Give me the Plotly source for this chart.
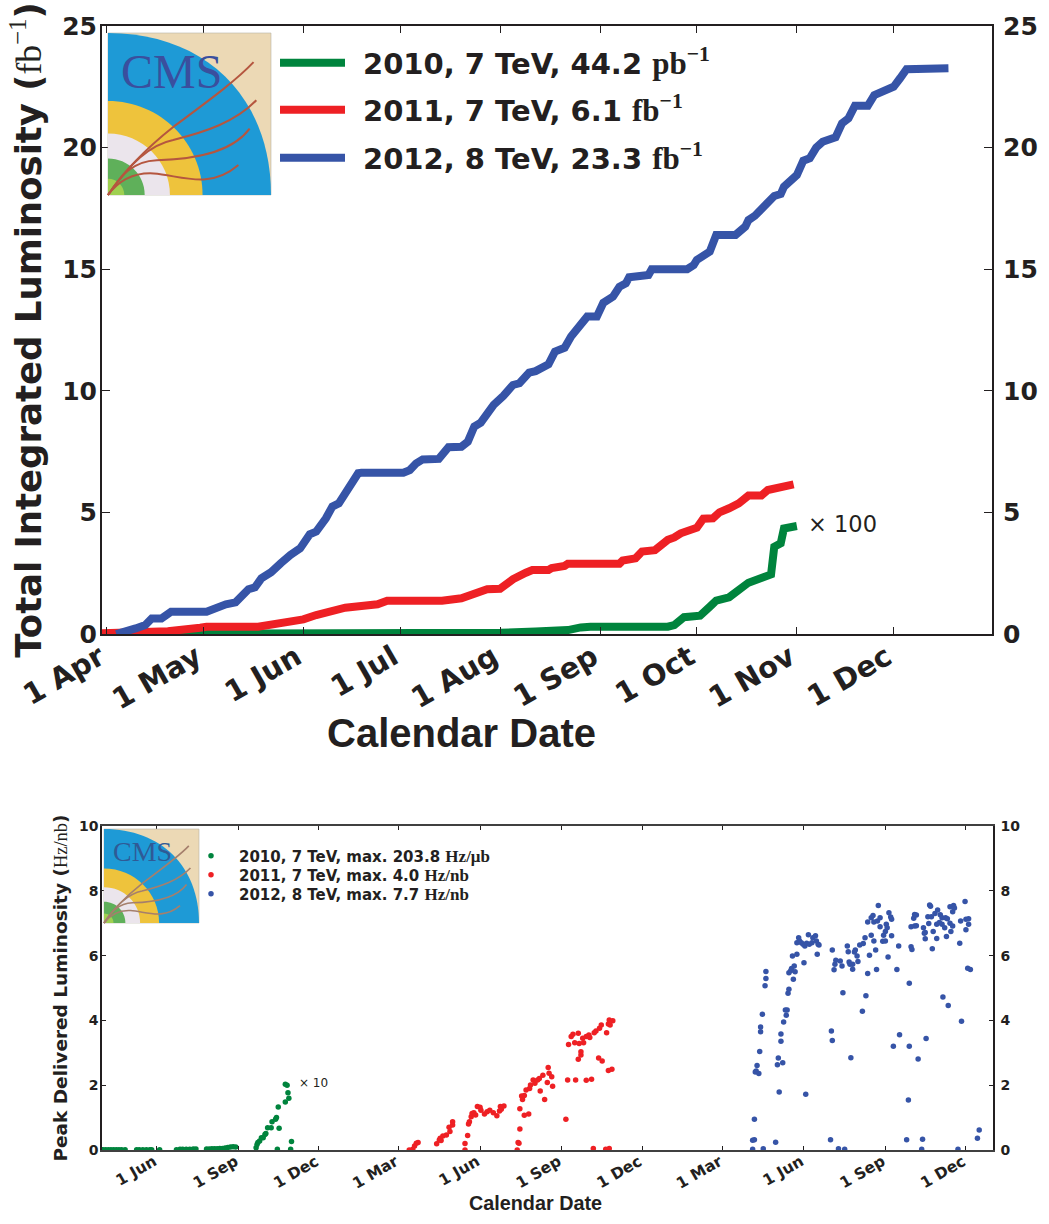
from datetime import date, timedelta
import plotly.graph_objects as go

W, H = 1049, 1224
INK = "#231f20"
GREEN, RED, BLUE = "#00843d", "#ee2024", "#3654a7"

# ---------- top panel: days since 1 Apr, integrated luminosity (fb^-1)
days_2010 = [0, 30, 97, 122, 133.3, 143.7, 147.8, 150.9, 174.2, 176.2, 179.8, 184, 187.1, 189.7, 193.3, 196.4, 199, 206.2, 207.5, 209, 210.8, 214]
lumi_2010 = [0, 0, 0.01, 0.05, 0.10, 0.16, 0.27, 0.30, 0.30, 0.37, 0.69, 0.75, 1.12, 1.37, 1.51, 1.85, 2.11, 2.45, 3.59, 3.73, 4.34, 4.44]
days_2011 = [-2, 10.4, 19.7, 29, 31, 47.6, 53.8, 56.4, 59, 61, 65.2, 71.4, 74, 79.6, 84.8, 87.9, 104.9, 110.1, 114.7, 118.9, 122, 124, 126.6, 130.2, 132.8, 137, 138.5, 142.1, 143.4, 159.2, 160.7, 164.3, 166.9, 170, 174.2, 176.2, 178.3, 183, 185.5, 188.6, 190.7, 193.8, 196.4, 199, 203.1, 205.2, 207.7, 209.3, 213.1]
lumi_2011 = [0.03, 0.05, 0.11, 0.26, 0.30, 0.30, 0.44, 0.47, 0.58, 0.60, 0.78, 0.99, 1.08, 1.15, 1.22, 1.37, 1.37, 1.47, 1.64, 1.84, 1.86, 2.06, 2.25, 2.52, 2.63, 2.63, 2.71, 2.80, 2.89, 2.89, 3.02, 3.11, 3.39, 3.45, 3.87, 3.97, 4.14, 4.37, 4.74, 4.76, 5.0, 5.17, 5.37, 5.69, 5.69, 5.92, 5.96, 6.06, 6.15]
days_2012 = [3, 6.8, 9.9, 12.5, 14.5, 17.1, 20.2, 31, 33.1, 35.7, 37.8, 40.8, 44.5, 46.5, 48.6, 51.2, 53.3, 54.8, 57.4, 60, 63.1, 65.1, 68.3, 70.8, 72.4, 74.4, 75.5, 78, 79, 92, 94, 96.2, 98.7, 103.9, 106.5, 110.1, 112.2, 114.7, 116.8, 120.4, 123, 126.1, 128.7, 131.3, 133.9, 137.5, 139.8, 142.1, 144.7, 147.8, 149.9, 152, 154.5, 157.1, 159.2, 161.2, 162.3, 168, 169.5, 180.9, 182.4, 183.5, 187.1, 189.7, 195.9, 198.5, 199.5, 201.6, 205.2, 207.2, 209, 210.3, 214, 216.5, 218.3, 220.7, 222.7, 226.4, 228.4, 230.5, 232.6, 236.9, 238.8, 241.9, 244.4, 246, 248.9, 261]
lumi_2012 = [0, 0.08, 0.23, 0.37, 0.64, 0.64, 0.92, 0.92, 1.03, 1.08, 1.22, 1.30, 1.84, 1.92, 2.29, 2.54, 2.86, 2.91, 3.25, 3.52, 4.10, 4.21, 4.76, 5.24, 5.37, 5.78, 5.92, 6.61, 6.63, 6.63, 6.74, 7.02, 7.18, 7.2, 7.68, 7.70, 7.91, 8.53, 8.69, 9.42, 9.79, 10.24, 10.31, 10.75, 10.81, 11.09, 11.61, 11.77, 12.23, 12.80, 13.05, 13.05, 13.62, 13.87, 14.28, 14.42, 14.67, 14.76, 15.0, 15.0, 15.17, 15.38, 15.72, 16.41, 16.41, 16.75, 17.02, 17.2, 17.82, 18.01, 18.09, 18.39, 18.87, 19.46, 19.56, 20.0, 20.24, 20.42, 21.0, 21.2, 21.72, 21.72, 22.16, 22.37, 22.5, 22.85, 23.22, 23.26]
top_tick_dates = ["2012-04-01", "2012-05-01", "2012-06-01", "2012-07-01", "2012-08-01", "2012-09-01", "2012-10-01", "2012-11-01", "2012-12-01"]
top_tick_text = ["1 Apr", "1 May", "1 Jun", "1 Jul", "1 Aug", "1 Sep", "1 Oct", "1 Nov", "1 Dec"]

# ---------- bottom panel: days since 1 Apr 2010, peak luminosity (Hz/nb)
peak_days_2010 = [0.4, 3.4, 6.4, 9.4, 12.4, 15.4, 18.4, 21.5, 25.2, 38, 41.8, 45.6, 49.3, 53.1, 55.7, 64.4, 83.2, 87, 90.7, 94.5, 98.3, 102, 105.8, 117, 120, 123, 126, 129, 132, 135, 138, 141, 144, 147, 150, 173.6, 174.4, 175.5, 177.4, 179.3, 181.2, 183, 184.9, 186.8, 190.6, 191.7, 195.1, 196.2, 199.2, 197, 198.1, 206.4, 210.5, 209, 206.8, 208.3, 213.2, 212]
peak_vals_2010 = [0.01, 0.01, 0.01, 0.01, 0.01, 0.01, 0.01, 0.01, 0.01, 0.01, 0.01, 0.01, 0.01, 0.01, 0.01, 0.01, 0.01, 0.02, 0.02, 0.02, 0.02, 0.03, 0.03, 0.03, 0.03, 0.04, 0.04, 0.04, 0.05, 0.05, 0.06, 0.08, 0.09, 0.10, 0.09, 0.07, 0.17, 0.23, 0.28, 0.38, 0.38, 0.48, 0.51, 0.69, 0.69, 0.87, 0.95, 1.0, 0.67, 0.02, 1.33, 1.48, 1.6, 1.77, 2.03, 2.0, 0.26, 0.02]
peak_days_2011 = [346.1, 350.7, 352.5, 354.4, 356.3, 377, 380, 382.7, 381.5, 384.6, 388.3, 392.1, 391.3, 395.9, 395.9, 409, 409.8, 412, 413.6, 414.7, 416.6, 417.3, 421.5, 419.2, 423.3, 426, 427.9, 431.6, 434.3, 437.3, 441, 445.9, 448.6, 449.7, 453.1, 450.5, 468.2, 469.3, 470.4, 471.2, 471.9, 476, 481, 473.1, 474.9, 476.8, 478.7, 482.5, 483.2, 486.2, 488.1, 491.9, 493.8, 497.5, 503.2, 504.3, 507, 502, 508.1, 494.9, 499, 523.9, 525, 534, 546.9, 552.2, 554, 568.3, 572.1, 537.8, 540.8, 540.1, 526.5, 529.6, 531.4, 537.1, 533.3, 538.9, 542.7, 543.9, 546.5, 550.3, 549.5, 555.9, 557.8, 561.6, 563.4, 569.1, 571, 573.6, 572.9, 576.6, 560.8, 564.9, 571, 575.1]
peak_vals_2011 = [0, 0.02, 0.12, 0.21, 0.23, 0.19, 0.31, 0.29, 0.36, 0.43, 0.46, 0.57, 0.70, 0.77, 0.87, 0, 0.2, 0.45, 0.8, 0.87, 1.03, 1.13, 1.08, 1.15, 1.34, 1.32, 1.23, 1.11, 1.18, 1.23, 1.15, 1.06, 1.2, 1.34, 1.36, 1.26, 0, 0.23, 0.21, 0.65, 1.27, 1.07, 1.11, 1.67, 1.56, 1.68, 1.85, 1.9, 2.01, 2.16, 2.06, 2.16, 2.21, 2.31, 2.55, 2.37, 2.26, 2.08, 1.97, 1.82, 1.56, 0.95, 2.16, 2.16, 2.15, 2.18, 0.05, 0.02, 0.05, 2.8, 2.93, 3.03, 3.26, 3.5, 3.57, 3.6, 3.31, 3.29, 3.45, 3.31, 3.5, 3.47, 3.55, 3.62, 3.67, 3.76, 3.86, 3.62, 3.89, 3.86, 4.01, 3.99, 2.84, 2.75, 2.45, 2.49]
peak_days_2012 = [734.1, 734.8, 736, 736.7, 738.6, 737.9, 739.7, 741.2, 742, 743.1, 743.9, 745, 746.1, 748, 749.2, 749.9, 760.8, 762, 763.1, 764.2, 766.1, 766.9, 768, 769.9, 771.4, 772.1, 773.3, 774, 775.9, 775.1, 777, 778.9, 780, 781.2, 782.7, 779.3, 784.2, 784.6, 786.8, 787.6, 789.5, 791.3, 792.1, 794, 793.2, 795.1, 797, 798.9, 801.5, 802.6, 805.6, 806.4, 808.3, 807.9, 809.4, 822.2, 823, 824.1, 824.9, 826, 827.1, 828.2, 831.3, 833.9, 835, 836.9, 838.4, 841, 842.2, 843.3, 844.8, 845.9, 847.1, 847.8, 849, 850.8, 852, 853.9, 855.4, 858.4, 859.1, 861, 862.1, 864.8, 866.6, 868.2, 864, 871.9, 873, 874.2, 876.1, 868.5, 870.4, 871.2, 875, 878, 878.7, 881.7, 882.8, 884.7, 884, 885.9, 886.6, 887.7, 888.9, 890.4, 891.1, 891.9, 893, 897.9, 899, 900.2, 908.8, 910, 911.1, 911.8, 913, 913.7, 914.9, 916, 917.9, 919.4, 917.5, 919.4, 921.3, 925, 926.2, 927.3, 928.8, 929.2, 929.9, 930.7, 932.2, 933.3, 934.1, 935.2, 936.3, 937.1, 938.2, 940.1, 942, 943.9, 942.7, 945, 946.9, 948, 948.8, 949.9, 951.4, 952.5, 953.3, 954.8, 955.9, 957, 958.9, 960, 957.8, 961.9, 960.8, 962.7, 966.5, 968, 969.1, 970.2, 974, 975.1, 975.9, 977, 978.1, 978.9, 980.4, 988.7, 990.2]
peak_vals_2012 = [0.02, 0.30, 0.32, 0.95, 2.44, 2.41, 2.61, 2.36, 3.04, 3.80, 3.65, 4.19, 0.04, 5.07, 5.29, 5.51, 0.24, 2.63, 2.84, 1.79, 3.36, 3.58, 2.69, 3.95, 4.32, 4.16, 4.32, 4.84, 4.96, 5.47, 5.53, 5.60, 5.27, 5.68, 5.50, 5.99, 6.04, 6.40, 6.55, 6.45, 6.40, 6.35, 5.78, 1.72, 6.30, 6.38, 6.64, 6.35, 6.40, 6.55, 6.61, 6.45, 6.35, 6.04, 6.33, 0.32, 3.67, 3.38, 6.17, 5.56, 5.73, 5.86, 0.04, 5.83, 5.68, 4.85, 0.02, 6.30, 6.12, 5.80, 5.73, 2.85, 5.58, 5.73, 6.11, 6.17, 5.99, 5.82, 6.33, 4.28, 6.37, 6.55, 4.76, 5.45, 6.01, 6.63, 7.04, 6.45, 6.17, 5.57, 7.55, 7.17, 7.24, 7.04, 7.07, 7.17, 6.89, 6.44, 6.63, 6.45, 6.74, 6.97, 6.86, 5.96, 7.32, 7.19, 7.12, 6.61, 3.20, 5.57, 6.30, 3.56, 0.32, 1.54, 3.20, 5.15, 6.89, 6.27, 6.19, 7.15, 7.27, 7.25, 6.91, 6.92, 2.81, 0.02, 0.33, 6.86, 6.69, 6.52, 6.71, 3.44, 7.20, 6.99, 7.56, 7.52, 7.20, 6.21, 6.74, 7.30, 6.53, 7.41, 6.97, 7.02, 7.26, 6.97, 7.17, 4.72, 6.86, 7.17, 6.59, 7.14, 4.46, 7.00, 6.74, 6.91, 7.51, 7.55, 7.35, 7.47, 0.02, 6.38, 7.07, 3.97, 7.67, 6.80, 7.12, 5.61, 6.97, 7.14, 5.57, 0.36, 0.62]
bottom_tick_dates = ["2010-06-01", "2010-09-01", "2010-12-01", "2011-03-01", "2011-06-01", "2011-09-01", "2011-12-01", "2012-03-01", "2012-06-01", "2012-09-01", "2012-12-01"]
bottom_tick_text = ["1 Jun", "1 Sep", "1 Dec", "1 Mar", "1 Jun", "1 Sep", "1 Dec", "1 Mar", "1 Jun", "1 Sep", "1 Dec"]


def to_dates(start, days):
    return [(start + timedelta(days=d)).isoformat() for d in days]


def serif(s, size):
    return f'<span style="font-family:Liberation Serif;font-weight:bold;font-size:{size}px">{s}</span>'


D0 = date(2012, 4, 1)
B0 = date(2010, 4, 1)
fig = go.Figure()
GAP = "\u00a0\u200a"
for d, v, c, n, lg in [
    (days_2010, lumi_2010, GREEN, "2010, 7 TeV, 44.2 " + serif("pb<sup>−1</sup>", 31), "legend"),
    (days_2011, lumi_2011, RED, "2011, 7 TeV, 6.1 " + serif("fb<sup>−1</sup>", 31), "legend2"),
    (days_2012, lumi_2012, BLUE, "2012, 8 TeV, 23.3 " + serif("fb<sup>−1</sup>", 31), "legend3"),
]:
    fig.add_trace(go.Scatter(x=to_dates(D0, d), y=v, mode="lines", name=GAP + n,
                             line=dict(color=c, width=8), xaxis="x", yaxis="y", legend=lg))
for d, v, c, n, lg in [
    (peak_days_2010, peak_vals_2010, GREEN, "2010, 7 TeV, max. 203.8 " + serif("Hz/μb", 17), "legend4"),
    (peak_days_2011, peak_vals_2011, RED, "2011, 7 TeV, max. 4.0 " + serif("Hz/nb", 17), "legend5"),
    (peak_days_2012, peak_vals_2012, BLUE, "2012, 8 TeV, max. 7.7 " + serif("Hz/nb", 17), "legend6"),
]:
    fig.add_trace(go.Scatter(x=to_dates(B0, d), y=v, mode="markers", name=n,
                             marker=dict(color=c, size=5.5), xaxis="x2", yaxis="y3", legend=lg))
# right-hand duplicate axes
fig.add_trace(go.Scatter(x=[top_tick_dates[0]], y=[None], showlegend=False, xaxis="x", yaxis="y2", hoverinfo="skip"))
fig.add_trace(go.Scatter(x=[bottom_tick_dates[0]], y=[None], showlegend=False, xaxis="x2", yaxis="y4", hoverinfo="skip"))


def px_x(a, b):
    return [a / W, b / W]


def px_y(top, bottom):
    return [1 - bottom / H, 1 - top / H]


FONT = "DejaVu Sans"
top_tick = dict(family=FONT, size=25, color=INK, weight=700)
top_xtick = dict(family=FONT, size=29, color=INK, weight=700)
bot_tick = dict(family=FONT, size=14, color=INK, weight=700)
bot_xtick = dict(family=FONT, size=15.5, color=INK, weight=700)
top_dom_x, top_dom_y = px_x(102, 992), px_y(26, 634)
bot_dom_x, bot_dom_y = px_x(102, 993), px_y(826, 1150)


def y_common(dom, rng, dtick, font, lw, tl, off):
    return dict(domain=dom, range=rng, dtick=dtick, tickfont=font, ticks="inside", ticklen=tl, tickwidth=1,
                tickcolor=INK, showline=True, linecolor=INK, linewidth=lw, showgrid=False, zeroline=False,
                ticklabelstandoff=off)


def row_legend(x, y, item, size):
    return dict(x=x / W, y=1 - y / H, xanchor="left", yanchor="middle", bgcolor="rgba(0,0,0,0)", borderwidth=0,
                itemwidth=item, font=dict(family=FONT, size=size, color=INK, weight=700))


fig.update_layout(
    width=W, height=H, margin=dict(l=0, r=0, t=0, b=0, autoexpand=False), paper_bgcolor="white", plot_bgcolor="white",
    showlegend=True, hovermode=False,
    xaxis=dict(domain=top_dom_x, range=["2012-03-30 14:00", "2012-12-31 12:00"], anchor="y",
               tickmode="array", tickvals=top_tick_dates, ticktext=top_tick_text, tickangle=-30, tickfont=top_xtick,
               ticks="inside", ticklen=7, tickwidth=1, tickcolor=INK, showline=True, mirror="ticks",
               linecolor=INK, linewidth=2, showgrid=False, zeroline=False, ticklabelshift=-7, ticklabelstandoff=-7),
    yaxis=dict(**y_common(top_dom_y, [0, 25], 5, top_tick, 2, 8, -2), anchor="x",
               title=dict(text='Total Integrated Luminosity ('
                               '<span style="font-family:Liberation Serif;font-weight:normal">fb<sup>−1</sup></span>)',
                          font=dict(family=FONT, size=35.5, color=INK, weight=700), standoff=10)),
    yaxis2=dict(**y_common(top_dom_y, [0, 25], 5, top_tick, 2, 8, 4), anchor="x", overlaying="y", side="right"),
    xaxis2=dict(domain=bot_dom_x, range=["2010-03-30 21:00", "2012-12-31 14:00"], anchor="y3",
                tickmode="array", tickvals=bottom_tick_dates, ticktext=bottom_tick_text, tickangle=-30, tickfont=bot_xtick,
                ticks="inside", ticklen=4, tickwidth=1, tickcolor=INK, showline=True, mirror="ticks",
                linecolor="#404040", linewidth=1.5, showgrid=False, zeroline=False, ticklabelshift=-3, ticklabelstandoff=-5),
    yaxis3=dict(**y_common(bot_dom_y, [0, 10], 2, bot_tick, 1.5, 4, -1), anchor="x2",
                title=dict(text='Peak Delivered Luminosity ('
                                '<span style="font-family:Liberation Serif;font-weight:normal">Hz/nb</span>)',
                           font=dict(family=FONT, size=18.5, color=INK, weight=700), standoff=6)),
    yaxis4=dict(**y_common(bot_dom_y, [0, 10], 2, bot_tick, 1.5, 4, 3), anchor="x2", overlaying="y3", side="right"),
    legend=row_legend(275, 63, 65, 29),
    legend2=row_legend(275, 110, 65, 29),
    legend3=row_legend(275, 158, 65, 29),
    legend4=row_legend(183, 856, 46, 15),
    legend5=row_legend(183, 875, 46, 15),
    legend6=row_legend(183, 894, 46, 15),
)


def note(text, x, y, size, family=FONT, color=INK, weight=400, anchor="left", angle=0):
    fig.add_annotation(text=text, xref="paper", yref="paper", x=x / W, y=1 - y / H, xanchor=anchor, yanchor="middle",
                       showarrow=False, textangle=angle, font=dict(family=family, size=size, color=color, weight=weight))


note("Calendar Date", 461, 733, 40, family="Liberation Sans", weight=700, anchor="center")
note("Calendar Date", 535, 1203, 19.8, family="Liberation Sans", weight=700, anchor="center")
note("× 100", 806, 524, 22.5)
note("× 10", 297, 1083, 12)


# ---------- CMS logo drawn from vector shapes (unit square, origin bottom-left)
def logo(x0, y0, x1, y1, track_w, track_col, cms_size, cms_col, cms_xy):
    def P(u, v):
        return f"{(x0 + u * (x1 - x0)) / W:.5f},{1 - (y1 - v * (y1 - y0)) / H:.5f}"

    def disc(r, k=0.5523):
        return (f"M{P(0, 0)} L{P(0, r)} C{P(k * r, r)} {P(r, k * r)} {P(r, 0)} Z")

    def add(path, fill=None, line=None, w=0):
        fig.add_shape(type="path", path=path, xref="paper", yref="paper", layer="above",
                      fillcolor=fill, line=dict(color=line or "rgba(0,0,0,0)", width=w))

    add(f"M{P(0, 0)} L{P(0, 1)} L{P(1, 1)} L{P(1, 0)} Z", "#ecd9b5", "#b9b3a6", 0.6)
    add(f"M{P(0, 0)} L{P(0, 1)} C{P(0.6, 1)} {P(1, 0.6)} {P(1, 0)} Z", "#1e9ad6")
    add(disc(0.58), "#eec33c")
    add(disc(0.38), "#ebe5ec")
    add(disc(0.225), "#5fb05a")
    add(disc(0.10), "#9fd050")
    for tr in [
        f"M{P(0, 0)} C{P(0.1, 0.15)} {P(0.25, 0.3)} {P(0.4, 0.42)} C{P(0.6, 0.57)} {P(0.78, 0.7)} {P(0.893, 0.82)}",
        f"M{P(0, 0)} C{P(0.12, 0.18)} {P(0.25, 0.31)} {P(0.4, 0.34)} C{P(0.6, 0.39)} {P(0.78, 0.45)} {P(0.91, 0.585)}",
        f"M{P(0, 0)} C{P(0.08, 0.12)} {P(0.15, 0.21)} {P(0.3, 0.215)} C{P(0.5, 0.22)} {P(0.75, 0.25)} {P(0.869, 0.41)}",
        f"M{P(0, 0)} C{P(0.06, 0.08)} {P(0.15, 0.14)} {P(0.28, 0.133)} C{P(0.45, 0.12)} {P(0.62, 0.03)} {P(0.8, 0.185)}",
    ]:
        add(tr, None, track_col, track_w)
    note("CMS", cms_xy[0], cms_xy[1], cms_size, family="Liberation Serif", color=cms_col, anchor="center")


logo(108, 33, 271, 195, 2, "#b5563f", 48, "#3a4f9e", (171, 71))
logo(104, 829, 199, 923, 1.6, "#a57f6c", 28, "#2f5a96", (142, 851))

fig.write_html("out.html", config=dict(displayModeBar=False),
               post_script="document.body.style.margin='0';document.body.style.overflow='hidden';")
